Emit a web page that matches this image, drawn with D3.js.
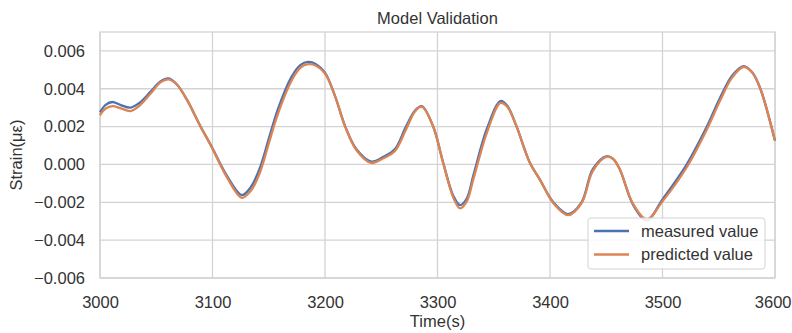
<!DOCTYPE html>
<html>
<head>
<meta charset="utf-8">
<script src="https://cdn.jsdelivr.net/npm/d3@7"></script>
<style>
  body { margin: 0; background: #fff; }
  text { font-family: "Liberation Sans", Arial, sans-serif; fill: #333; }
</style>
</head>
<body>
<div id="viz"></div>
<script>
var width = 792,
    height = 333;

var margin = {top: 32, right: 17, bottom: 55, left: 100};
var fontSize = "16.5px";

// time axis (s)
var times = [3000, 3005, 3011, 3018, 3027, 3035, 3045, 3054, 3061, 3068,
    3077, 3089, 3099, 3113, 3126, 3134, 3142, 3150, 3158, 3170,
    3178, 3185, 3192, 3200, 3209, 3218, 3228, 3241, 3252, 3262,
    3272, 3280, 3286, 3296, 3305, 3314, 3320, 3326, 3332, 3344,
    3356, 3362, 3370, 3382, 3391, 3403, 3416, 3428, 3438, 3450,
    3456, 3462, 3474, 3486, 3500, 3521, 3539, 3551, 3562, 3572,
    3580, 3587, 3600];

// strain, in units of 1e-3
var measured = [2.75, 3.15, 3.3, 3.15, 3.0, 3.25, 3.85, 4.4, 4.55, 4.25,
    3.45, 2.05, 0.97, -0.62, -1.62, -1.2, -0.2, 1.35, 2.9, 4.6,
    5.25, 5.42, 5.3, 4.85, 3.6, 2.0, 0.8, 0.15, 0.4, 0.8,
    2.0, 2.85, 3.08, 2.03, 0.1, -1.65, -2.15, -1.8, -0.55, 1.9,
    3.35, 3.1, 2.05, 0.1, -0.8, -2.0, -2.62, -2.0, -0.25, 0.43,
    0.3, -0.25, -2.15, -2.95, -1.85, -0.05, 1.95, 3.5, 4.7, 5.2,
    4.85, 4.0, 1.25];

var predicted = [2.6, 2.95, 3.08, 2.98, 2.82, 3.1, 3.75, 4.35, 4.5, 4.25,
    3.45, 2.05, 0.95, -0.7, -1.76, -1.4, -0.45, 1.1, 2.65, 4.4,
    5.1, 5.3, 5.22, 4.8, 3.6, 2.0, 0.75, 0.08, 0.33, 0.7,
    1.85, 2.8, 3.05, 2.03, 0.1, -1.75, -2.32, -1.95, -0.75, 1.7,
    3.25, 3.05, 2.05, 0.1, -0.8, -2.05, -2.68, -2.05, -0.35, 0.4,
    0.3, -0.25, -2.1, -2.9, -1.95, -0.2, 1.8, 3.35, 4.6, 5.15,
    4.85, 4.0, 1.25];

var xTicks = [3000, 3100, 3200, 3300, 3400, 3500, 3600];
var yTicks = [-0.006, -0.004, -0.002, 0.000, 0.002, 0.004, 0.006];

var seriesNames = ["measured value", "predicted value"];
var colors = {"measured value": "#4C72B0", "predicted value": "#DD8452"};

var svg = d3.select("div#viz")
    .append("svg")
    .attr("width", width)
    .attr("height", height);

var x = d3.scaleLinear()
    .domain([3000, 3600])
    .range([margin.left, width - margin.right]);

var y = d3.scaleLinear()
    .domain([-0.006, 0.007])
    .range([height - margin.bottom, margin.top]);

var midX = (x.range()[0] + x.range()[1]) / 2,
    midY = (y.range()[0] + y.range()[1]) / 2;

// grid
svg.append("g")
    .selectAll("line")
    .data(xTicks)
    .enter().append("line")
    .attr("x1", function(d) { return x(d); })
    .attr("x2", function(d) { return x(d); })
    .attr("y1", y.range()[0])
    .attr("y2", y.range()[1])
    .attr("stroke", "#d3d3d3")
    .attr("stroke-width", 1.3);

svg.append("g")
    .selectAll("line")
    .data(yTicks)
    .enter().append("line")
    .attr("x1", x.range()[0])
    .attr("x2", x.range()[1])
    .attr("y1", function(d) { return y(d); })
    .attr("y2", function(d) { return y(d); })
    .attr("stroke", "#d3d3d3")
    .attr("stroke-width", 1.3);

// frame
svg.append("rect")
    .attr("x", x.range()[0])
    .attr("y", y.range()[1])
    .attr("width", x.range()[1] - x.range()[0])
    .attr("height", y.range()[0] - y.range()[1])
    .attr("fill", "none")
    .attr("stroke", "#d3d3d3")
    .attr("stroke-width", 1.3);

// axes (labels only, seaborn style)
var xAxis = svg.append("g")
    .attr("transform", "translate(0," + y.range()[0] + ")")
    .call(d3.axisBottom(x).tickValues(xTicks).tickFormat(d3.format("d")).tickSize(0).tickPadding(18));
xAxis.select(".domain").remove();
xAxis.selectAll("text")
    .style("font-size", fontSize)
    .style("font-family", "'Liberation Sans', Arial, sans-serif")
    .attr("fill", "#333");
// last label sits at the page edge: keep it inside
xAxis.selectAll(".tick")
    .filter(function(d) { return d === 3600; })
    .select("text")
    .attr("text-anchor", "end")
    .attr("x", width - 1 - x(3600));

var yAxis = svg.append("g")
    .attr("transform", "translate(" + x.range()[0] + ",0)")
    .call(d3.axisLeft(y).tickValues(yTicks).tickFormat(function(d) {
        return d3.format(".3f")(d).replace("-", "\u2212");
    }).tickSize(0).tickPadding(15));
yAxis.select(".domain").remove();
yAxis.selectAll("text")
    .style("font-size", fontSize)
    .style("font-family", "'Liberation Sans', Arial, sans-serif")
    .attr("fill", "#333");

// lines
var line = d3.line()
    .x(function(d) { return x(d[0]); })
    .y(function(d) { return y(d[1]); })
    .curve(d3.curveCatmullRom.alpha(0.5));

var series = [
    {name: "measured value", values: times.map(function(t, i) { return [t, measured[i] / 1000]; })},
    {name: "predicted value", values: times.map(function(t, i) { return [t, predicted[i] / 1000]; })}
];

svg.append("g")
    .selectAll("path")
    .data(series)
    .enter().append("path")
    .attr("d", function(d) { return line(d.values); })
    .attr("fill", "none")
    .attr("stroke", function(d) { return colors[d.name]; })
    .attr("stroke-width", 2.3)
    .attr("stroke-linejoin", "round");

// titles
svg.append("text")
    .attr("x", midX)
    .attr("y", 24)
    .attr("text-anchor", "middle")
    .style("font-size", fontSize)
    .text("Model Validation");

svg.append("text")
    .attr("x", midX)
    .attr("y", 327)
    .attr("text-anchor", "middle")
    .style("font-size", fontSize)
    .text("Time(s)");

svg.append("text")
    .attr("transform", "translate(22," + midY + ") rotate(-90)")
    .attr("text-anchor", "middle")
    .style("font-size", fontSize)
    .text("Strain(\u03bc\u03b5)");

// legend
var legend = svg.append("g")
    .attr("transform", "translate(588,218)");

legend.append("rect")
    .attr("width", 177)
    .attr("height", 51)
    .attr("rx", 3)
    .attr("fill", "#fff")
    .attr("fill-opacity", 0.85)
    .attr("stroke", "#d3d3d3")
    .attr("stroke-width", 1);

var item = legend.selectAll("g.item")
    .data(seriesNames)
    .enter().append("g")
    .attr("class", "item")
    .attr("transform", function(d, i) { return "translate(0," + (13 + i * 23.5) + ")"; });

item.append("line")
    .attr("x1", 6)
    .attr("x2", 41)
    .attr("stroke", function(d) { return colors[d]; })
    .attr("stroke-width", 2.3);

item.append("text")
    .attr("x", 53)
    .attr("dy", "0.35em")
    .style("font-size", fontSize)
    .text(function(d) { return d; });
</script>
</body>
</html>
